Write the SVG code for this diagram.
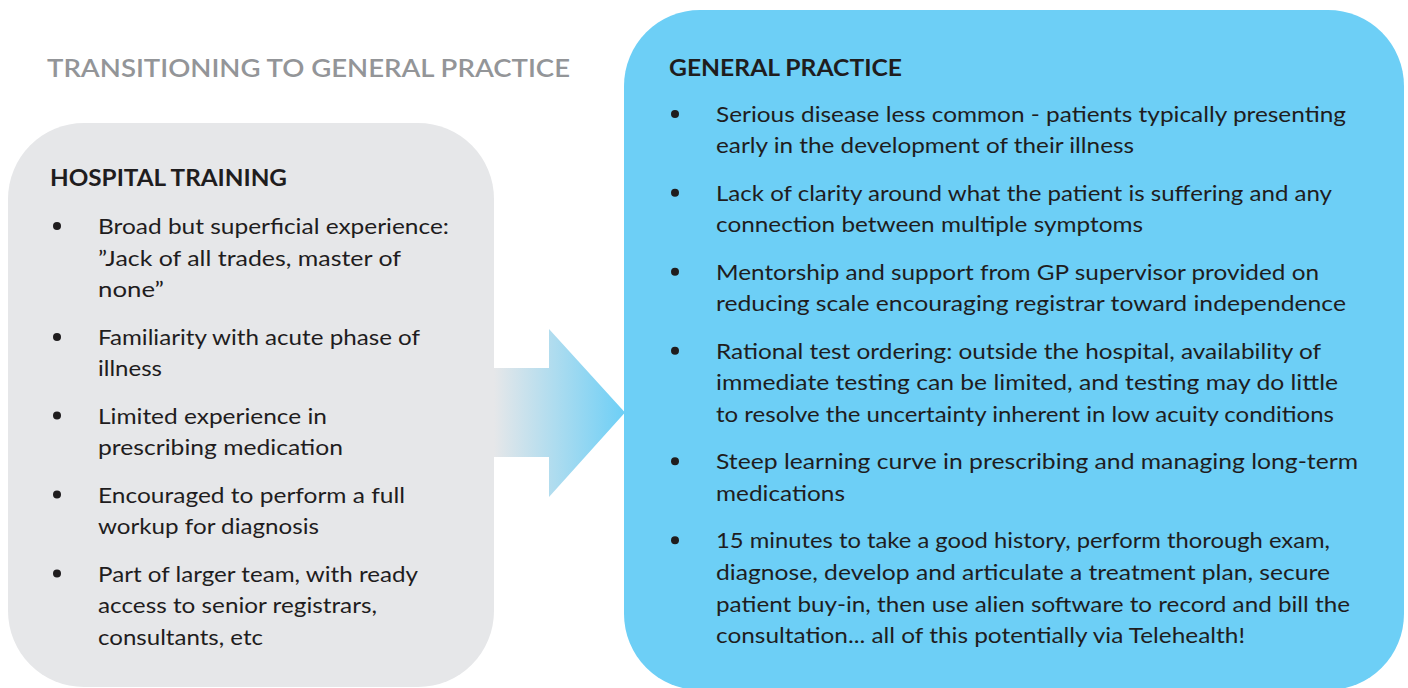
<svg xmlns="http://www.w3.org/2000/svg" width="1408" height="688" viewBox="0 0 1408 688">
<defs>
<linearGradient id="arrowGrad" gradientUnits="userSpaceOnUse" x1="494" y1="0" x2="625" y2="0">
<stop offset="0" stop-color="#e6e7e9"/>
<stop offset="1" stop-color="#6dcff6"/>
</linearGradient>
<style>
text{font-family:Lato,"Noto Sans","Liberation Sans",sans-serif;fill:#1f1d1e}
.t{font-size:22px}
.h{font-size:22px;font-weight:700}
.title{font-size:24.5px;font-weight:600;fill:#939598}
.b{fill:#1f1d1e}
</style>
</defs>
<rect width="1408" height="688" fill="#ffffff"/>
<text class="title" x="47" y="77" textLength="523" lengthAdjust="spacingAndGlyphs">TRANSITIONING TO GENERAL PRACTICE</text>

<g id="hospital-training">
<rect x="8" y="123" width="486" height="564" rx="76" ry="76" fill="#e6e7e9"/>
<text class="h" x="50" y="186" textLength="237" lengthAdjust="spacingAndGlyphs">HOSPITAL TRAINING</text>
<circle class="b" cx="57" cy="226" r="4"/>
<circle class="b" cx="57" cy="337" r="4"/>
<circle class="b" cx="57" cy="415.6" r="4"/>
<circle class="b" cx="57" cy="494.6" r="4"/>
<circle class="b" cx="57" cy="573.6" r="4"/>
<text class="t" x="98" y="234" textLength="351" lengthAdjust="spacingAndGlyphs">Broad but superficial experience:</text>
<text class="t" x="98" y="265.6" textLength="303" lengthAdjust="spacingAndGlyphs">”Jack of all trades, master of</text>
<text class="t" x="98" y="297.2" textLength="66" lengthAdjust="spacingAndGlyphs">none”</text>
<text class="t" x="98" y="344.6" textLength="322" lengthAdjust="spacingAndGlyphs">Familiarity with acute phase of</text>
<text class="t" x="98" y="376.2" textLength="64" lengthAdjust="spacingAndGlyphs">illness</text>
<text class="t" x="98" y="423.6" textLength="229" lengthAdjust="spacingAndGlyphs">Limited experience in</text>
<text class="t" x="98" y="455.2" textLength="245" lengthAdjust="spacingAndGlyphs">prescribing medication</text>
<text class="t" x="98" y="502.6" textLength="307" lengthAdjust="spacingAndGlyphs">Encouraged to perform a full</text>
<text class="t" x="98" y="534.2" textLength="221" lengthAdjust="spacingAndGlyphs">workup for diagnosis</text>
<text class="t" x="98" y="581.6" textLength="320" lengthAdjust="spacingAndGlyphs">Part of larger team, with ready</text>
<text class="t" x="98" y="613.2" textLength="279" lengthAdjust="spacingAndGlyphs">access to senior registrars,</text>
<text class="t" x="98" y="644.8" textLength="165" lengthAdjust="spacingAndGlyphs">consultants, etc</text>
</g>

<g id="connectors">
<path d="M494 368 H549 V329 L625 412.5 L549 497 V457 H494 Z" fill="url(#arrowGrad)"/>
</g>

<g id="general-practice">
<rect x="624" y="10" width="780" height="680" rx="76" ry="76" fill="#6dcff6"/>
<text class="h" x="669" y="76" textLength="233" lengthAdjust="spacingAndGlyphs">GENERAL PRACTICE</text>
<circle class="b" cx="675" cy="114" r="4"/>
<circle class="b" cx="675" cy="192.7" r="4"/>
<circle class="b" cx="675" cy="271.7" r="4"/>
<circle class="b" cx="675" cy="350.7" r="4"/>
<circle class="b" cx="675" cy="461.3" r="4"/>
<circle class="b" cx="675" cy="540.3" r="4"/>
<text class="t" x="716" y="121.7" textLength="630" lengthAdjust="spacingAndGlyphs">Serious disease less common - patients typically presenting</text>
<text class="t" x="716" y="153.3" textLength="418" lengthAdjust="spacingAndGlyphs">early in the development of their illness</text>
<text class="t" x="716" y="200.7" textLength="616" lengthAdjust="spacingAndGlyphs">Lack of clarity around what the patient is suffering and any</text>
<text class="t" x="716" y="232.3" textLength="427" lengthAdjust="spacingAndGlyphs">connection between multiple symptoms</text>
<text class="t" x="716" y="279.7" textLength="603" lengthAdjust="spacingAndGlyphs">Mentorship and support from GP supervisor provided on</text>
<text class="t" x="716" y="311.3" textLength="630" lengthAdjust="spacingAndGlyphs">reducing scale encouraging registrar toward independence</text>
<text class="t" x="716" y="358.7" textLength="605" lengthAdjust="spacingAndGlyphs">Rational test ordering: outside the hospital, availability of</text>
<text class="t" x="716" y="390.3" textLength="622" lengthAdjust="spacingAndGlyphs">immediate testing can be limited, and testing may do little</text>
<text class="t" x="716" y="421.9" textLength="618" lengthAdjust="spacingAndGlyphs">to resolve the uncertainty inherent in low acuity conditions</text>
<text class="t" x="716" y="469.3" textLength="642" lengthAdjust="spacingAndGlyphs">Steep learning curve in prescribing and managing long-term</text>
<text class="t" x="716" y="500.9" textLength="129" lengthAdjust="spacingAndGlyphs">medications</text>
<text class="t" x="716" y="548.3" textLength="614" lengthAdjust="spacingAndGlyphs">15 minutes to take a good history, perform thorough exam,</text>
<text class="t" x="716" y="579.9" textLength="614" lengthAdjust="spacingAndGlyphs">diagnose, develop and articulate a treatment plan, secure</text>
<text class="t" x="716" y="611.5" textLength="634" lengthAdjust="spacingAndGlyphs">patient buy-in, then use alien software to record and bill the</text>
<text class="t" x="716" y="643.1" textLength="529" lengthAdjust="spacingAndGlyphs">consultation... all of this potentially via Telehealth!</text>
</g>
</svg>
